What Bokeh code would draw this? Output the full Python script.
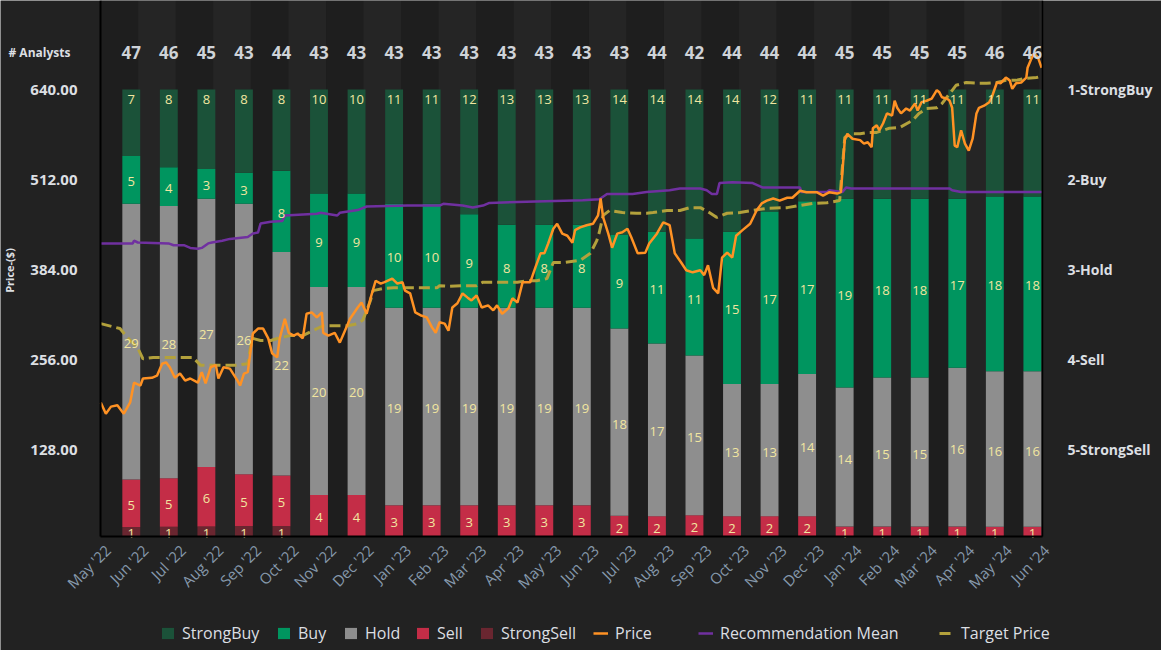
import math
import pandas as pd
from bokeh.plotting import figure
from bokeh.models import Range1d, ColumnDataSource, Legend, LegendItem
from bokeh.core.properties import value
from bokeh.embed import file_html
from bokeh.resources import INLINE

# ---------------- data ----------------
TICK_LABELS = ["May '22", "Jun '22", "Jul '22", "Aug '22", "Sep '22", "Oct '22", "Nov '22",
               "Dec '22", "Jan '23", "Feb '23", "Mar '23", "Apr '23", "May '23", "Jun '23",
               "Jul '23", "Aug '23", "Sep '23", "Oct '23", "Nov '23", "Dec '23", "Jan '24",
               "Feb '24", "Mar '24", "Apr '24", "May '24", "Jun '24"]
BAR_MONTHS = TICK_LABELS[1:]

STRONG_BUY = [7, 8, 8, 8, 8, 10, 10, 11, 11, 12, 13, 13, 13, 14, 14, 14, 14, 12, 11, 11, 11, 11, 11, 11, 11]
BUY = [5, 4, 3, 3, 8, 9, 9, 10, 10, 9, 8, 8, 8, 9, 11, 11, 15, 17, 17, 19, 18, 18, 17, 18, 18]
HOLD = [29, 28, 27, 26, 22, 20, 20, 19, 19, 19, 19, 19, 19, 18, 17, 15, 13, 13, 14, 14, 15, 15, 16, 16, 16]
SELL = [5, 5, 6, 5, 5, 4, 4, 3, 3, 3, 3, 3, 3, 2, 2, 2, 2, 2, 2, 1, 1, 1, 1, 1, 1]
STRONG_SELL = [1, 1, 1, 1, 1, 0, 0, 0, 0, 0, 0, 0, 0, 0, 0, 0, 0, 0, 0, 0, 0, 0, 0, 0, 0]
ANALYSTS = [47, 46, 45, 43, 44, 43, 43, 43, 43, 43, 43, 43, 43, 43, 44, 42, 44, 44, 44, 45, 45, 45, 45, 46, 46]

PRICE_DATES = [
    "2022-06-21", "2022-06-25", "2022-06-29", "2022-07-04", "2022-07-09", "2022-07-14", "2022-07-17",
    "2022-07-22", "2022-07-24", "2022-07-31", "2022-08-04", "2022-08-08", "2022-08-11", "2022-08-14",
    "2022-08-18", "2022-08-22", "2022-08-26", "2022-08-30", "2022-09-05", "2022-09-08", "2022-09-11",
    "2022-09-15", "2022-09-19", "2022-09-21", "2022-09-25", "2022-09-30", "2022-10-06", "2022-10-08",
    "2022-10-11", "2022-10-14", "2022-10-18", "2022-10-22", "2022-10-26", "2022-10-30", "2022-11-02",
    "2022-11-06", "2022-11-08", "2022-11-12", "2022-11-15", "2022-11-19", "2022-11-22", "2022-11-26",
    "2022-11-29", "2022-12-03", "2022-12-07", "2022-12-11", "2022-12-12", "2022-12-16", "2022-12-21",
    "2022-12-25", "2022-12-29",
    "2023-01-02", "2023-01-08", "2023-01-11", "2023-01-15", "2023-01-18", "2023-01-22", "2023-01-26",
    "2023-01-29", "2023-02-04", "2023-02-08", "2023-02-12", "2023-02-14", "2023-02-18", "2023-02-22",
    "2023-02-26", "2023-03-03", "2023-03-07", "2023-03-10", "2023-03-13", "2023-03-17", "2023-03-20",
    "2023-03-23", "2023-03-27", "2023-03-31", "2023-04-04", "2023-04-07", "2023-04-11", "2023-04-15",
    "2023-04-20", "2023-04-24", "2023-04-27", "2023-05-01", "2023-05-06", "2023-05-09", "2023-05-13",
    "2023-05-17", "2023-05-23", "2023-05-27", "2023-05-31", "2023-06-03", "2023-06-06", "2023-06-10",
    "2023-06-13", "2023-06-17", "2023-06-21", "2023-06-25", "2023-06-27", "2023-07-01", "2023-07-06",
    "2023-07-11", "2023-07-15", "2023-07-17", "2023-07-19", "2023-07-23", "2023-07-26", "2023-07-30",
    "2023-08-03", "2023-08-07", "2023-08-10", "2023-08-15", "2023-08-21", "2023-08-24", "2023-08-30",
    "2023-09-04", "2023-09-09", "2023-09-13", "2023-09-18", "2023-09-22", "2023-09-27", "2023-10-03",
    "2023-10-06", "2023-10-09", "2023-10-13", "2023-10-17", "2023-10-20", "2023-10-24", "2023-10-28",
    "2023-10-31", "2023-11-05", "2023-11-11", "2023-11-16", "2023-11-20", "2023-11-24", "2023-11-29",
    "2023-12-04", "2023-12-10", "2023-12-14", "2023-12-20", "2023-12-25",
    "2024-01-02", "2024-01-07", "2024-01-12", "2024-01-18", "2024-01-21", "2024-01-24", "2024-01-26",
    "2024-01-30", "2024-02-05", "2024-02-08", "2024-02-11", "2024-02-14", "2024-02-15", "2024-02-18",
    "2024-02-20", "2024-02-23", "2024-02-26", "2024-03-01", "2024-03-03", "2024-03-05", "2024-03-08",
    "2024-03-12", "2024-03-15", "2024-03-19", "2024-03-21", "2024-03-24", "2024-03-28", "2024-04-01",
    "2024-04-05", "2024-04-07", "2024-04-09", "2024-04-13", "2024-04-15", "2024-04-17", "2024-04-19",
    "2024-04-21", "2024-04-24", "2024-04-27", "2024-04-30", "2024-05-03", "2024-05-06", "2024-05-08",
    "2024-05-12", "2024-05-16", "2024-05-18", "2024-05-22", "2024-05-25", "2024-05-29", "2024-06-01",
    "2024-06-03", "2024-06-06", "2024-06-10", "2024-06-14", "2024-06-15", "2024-06-18", "2024-06-20",
    "2024-06-23", "2024-06-24", "2024-06-26"]
PRICE = [
    195, 179, 189, 191, 179, 195, 223, 219, 229, 230, 233, 250, 252, 245, 230, 236, 226, 229, 223, 238,
    222, 245, 248, 229, 245, 243, 226, 219, 236, 238, 293, 300, 300, 286, 265, 259, 286, 314, 294, 290,
    293, 286, 321, 323, 316, 323, 294, 290, 294, 280, 297,
    314, 330, 337, 321, 343, 368, 364, 366, 371, 364, 366, 354, 350, 323, 319, 316, 302, 294, 309, 307,
    297, 330, 336, 350, 344, 340, 347, 330, 333, 326, 333, 321, 329, 343, 337, 366, 366, 387, 407, 407,
    421, 442, 449, 435, 432, 422, 440, 444, 447, 449, 461, 485, 458, 435, 415, 435, 437, 442, 430, 407,
    408, 421, 435, 451, 447, 407, 394, 383, 380, 383, 376, 390, 358, 350, 401, 408, 401, 432, 440, 449,
    468, 478, 482, 485, 482, 486, 486, 496, 494,
    494, 489, 494, 492, 494, 568, 577, 570, 568, 563, 565, 558, 585, 589, 582, 592, 606, 603, 624, 614,
    606, 613, 610, 620, 610, 622, 624, 627, 639, 636, 629, 627, 624, 614, 560, 558, 582, 563, 553, 570,
    606, 614, 617, 622, 629, 650, 649, 657, 653, 641, 649, 650, 657, 671, 684, 691, 686, 681, 671]

TARGET_DATES = [
    "2022-06-21", "2022-07-06", "2022-07-12", "2022-07-20", "2022-07-24", "2022-08-01", "2022-08-12",
    "2022-08-22", "2022-09-01", "2022-09-07", "2022-09-15", "2022-09-25", "2022-10-06", "2022-10-14",
    "2022-10-16", "2022-10-18", "2022-10-24", "2022-11-01", "2022-11-08", "2022-11-16", "2022-11-26",
    "2022-12-04", "2022-12-12", "2022-12-20", "2022-12-31", "2023-01-08", "2023-01-12", "2023-01-18",
    "2023-01-20", "2023-01-28", "2023-02-05", "2023-02-16", "2023-02-26", "2023-03-11", "2023-03-13",
    "2023-03-21", "2023-03-31", "2023-04-11", "2023-04-16", "2023-04-27", "2023-05-05", "2023-05-13",
    "2023-05-20", "2023-05-28", "2023-06-05", "2023-06-10", "2023-06-18", "2023-07-01", "2023-07-09",
    "2023-07-14", "2023-07-16", "2023-07-19", "2023-07-24", "2023-08-03", "2023-08-14", "2023-08-22",
    "2023-08-27", "2023-09-07", "2023-09-17", "2023-09-25", "2023-10-03", "2023-10-10", "2023-10-16",
    "2023-10-24", "2023-11-03", "2023-11-13", "2023-11-24", "2023-12-10", "2023-12-20", "2023-12-30",
    "2024-01-10", "2024-01-20", "2024-01-24", "2024-01-29", "2024-02-05", "2024-02-12", "2024-02-18",
    "2024-02-28", "2024-03-07", "2024-03-17", "2024-03-22", "2024-03-28", "2024-04-05", "2024-04-09",
    "2024-04-15", "2024-04-20", "2024-04-28", "2024-05-06", "2024-05-14", "2024-05-22", "2024-05-29",
    "2024-06-06", "2024-06-14", "2024-06-22", "2024-06-26"]
TARGET_PRICE = [
    307, 300, 287, 272, 257, 259, 259, 259, 259, 248, 248, 248, 248, 250, 272, 286, 283, 283, 287, 290,
    290, 297, 304, 304, 304, 307, 312, 340, 354, 357, 358, 358, 358, 358, 361, 360, 361, 361, 366, 366,
    366, 366, 368, 368, 371, 394, 394, 397, 407, 425, 437, 461, 468, 465, 464, 464, 465, 468, 468, 472,
    472, 465, 458, 464, 465, 468, 471, 472, 475, 478, 479, 482, 572, 577, 577, 579, 579, 585, 586, 596,
    606, 613, 614, 620, 634, 646, 650, 649, 649, 650, 653, 653, 656, 657, 659]

MEAN_DATES = [
    "2022-06-21", "2022-07-16", "2022-07-17", "2022-07-20", "2022-08-13", "2022-08-17", "2022-08-25",
    "2022-08-30", "2022-09-05", "2022-09-08", "2022-09-13", "2022-09-16", "2022-09-24", "2022-09-30",
    "2022-10-14", "2022-10-18", "2022-10-22", "2022-10-24", "2022-11-01", "2022-11-10", "2022-11-12",
    "2022-12-07", "2022-12-10", "2022-12-23", "2022-12-25", "2023-01-08", "2023-01-15", "2023-02-16",
    "2023-03-13", "2023-03-16", "2023-03-31", "2023-04-08", "2023-04-16", "2023-04-21", "2023-07-03",
    "2023-07-16", "2023-07-22", "2023-08-11", "2023-08-22", "2023-09-09", "2023-09-17", "2023-10-03",
    "2023-10-08", "2023-10-12", "2023-10-16", "2023-10-18", "2023-10-28", "2023-11-13", "2023-11-21",
    "2023-12-20", "2023-12-21", "2024-01-10", "2024-01-12", "2024-01-22", "2024-01-25", "2024-01-29",
    "2024-04-15", "2024-04-17", "2024-04-24", "2024-06-26"]
MEAN_RATING = [
    2.71, 2.71, 2.68, 2.70, 2.71, 2.73, 2.73, 2.76, 2.77, 2.76, 2.71, 2.70, 2.68, 2.66, 2.64, 2.60,
    2.59, 2.49, 2.47, 2.46, 2.40, 2.38, 2.37, 2.40, 2.37, 2.34, 2.30, 2.29, 2.29, 2.27, 2.29, 2.31,
    2.29, 2.26, 2.23, 2.22, 2.16, 2.16, 2.14, 2.12, 2.10, 2.10, 2.12, 2.16, 2.16, 2.04, 2.03, 2.04,
    2.09, 2.09, 2.14, 2.14, 2.12, 2.14, 2.09, 2.10, 2.10, 2.12, 2.14, 2.14]

RATING_TICKS = [1, 2, 3, 4, 5]
RATING_LABELS = ["1-StrongBuy", "2-Buy", "3-Hold", "4-Sell", "5-StrongSell"]
PRICE_TICKS = [128, 256, 384, 512, 640]

# ---------------- style / layout ----------------
FONT = "Open Sans"
BG = "#222222"
BAND_DARK = "#1e1e1e"
BAND_LIGHT = "#252525"
COLORS = {"StrongBuy": "#1b5239", "Buy": "#00955f", "Hold": "#8e8e8e",
          "Sell": "#c42d47", "StrongSell": "#6a2630"}
PRICE_COLOR = "#ff9224"
MEAN_COLOR = "#7030a0"
TARGET_COLOR = "#b3a13c"
VALUE_COLOR = "#f2e6a0"
TEXT_COLOR = "#dcdfe2"
XLABEL_COLOR = "#8699ac"

W, H = 1161, 650                      # canvas
PL, PR, PB = 100, 1042, 536           # plot area left / right / bottom (top = 0)
PRICE_MIN, PRICE_TOP = 4.27, 766.6    # price at plot bottom / top
SHARE_TOP = 536 / 447                 # bar share (0..1) scale: 1 sits at the 640 level
RATING_PX = 90.0                      # pixels per rating step, 1 at y=89
ANALYST_ROW = 1.0828                  # share units
PRICE_LABEL_Y = 382.6                 # price units (centre of the vertical axis title)


def to_ms(dates):
    return [float((pd.Timestamp(d) - pd.Timestamp("1970-01-01")) / pd.Timedelta(milliseconds=1))
            for d in dates]


DAY_MS = 86400000.0
X_START = to_ms(["2022-06-20 19:00"])[0]
X_END = to_ms(["2024-06-26 16:00"])[0]
TICK0 = to_ms(["2022-06-21"])[0]
TICK_STEP = 29.37 * DAY_MS
tick_pos = [TICK0 + i * TICK_STEP for i in range(len(TICK_LABELS))]
BAR_SHIFT = 5.5 * DAY_MS
BAR_W = 14 * DAY_MS
bar_x = [tick_pos[i + 1] - BAR_SHIFT for i in range(len(BAR_MONTHS))]

mpp = (X_END - X_START) / (PR - PL)
ppp = (PRICE_TOP - PRICE_MIN) / PB
spp = SHARE_TOP / PB
p = figure(width=W, height=H,
           x_range=Range1d(X_START - PL * mpp, X_END + (W - PR) * mpp),
           y_range=Range1d(PRICE_MIN - (H - PB) * ppp, PRICE_TOP),
           output_backend="svg", toolbar_location=None,
           x_axis_location=None, y_axis_location=None,
           min_border_left=0, min_border_right=0, min_border_top=0, min_border_bottom=0,
           background_fill_color=BG, border_fill_color=BG, outline_line_color=None)
p.extra_y_ranges = {"share": Range1d(-(H - PB) * spp, SHARE_TOP),
                    "rating": Range1d(1 + (H - 89) / RATING_PX, 1 - 89 / RATING_PX)}
p.grid.visible = False

# alternating month bands inside the plot area
edges = [X_START] + tick_pos[:] + [X_END]
band_l, band_r, band_c = [], [], []
for i in range(len(edges) - 1):
    band_l.append(edges[i])
    band_r.append(edges[i + 1])
    band_c.append(BAND_DARK if i % 2 == 1 else BAND_LIGHT)
p.quad(left=band_l, right=band_r, bottom=PRICE_MIN, top=PRICE_TOP, fill_color=band_c, line_color=None)

# stacked, normalised bars
stack = [("StrongSell", STRONG_SELL), ("Sell", SELL), ("Hold", HOLD), ("Buy", BUY), ("StrongBuy", STRONG_BUY)]
totals = [sum(v) for v in zip(STRONG_SELL, SELL, HOLD, BUY, STRONG_BUY)]
cum = [0.0] * len(bar_x)
rends = {}
lx, ly, lt, lo = [], [], [], []
for name, counts in stack:
    bottoms = cum[:]
    tops = [b + c / t for b, c, t in zip(bottoms, counts, totals)]
    src = ColumnDataSource(dict(x=bar_x, bottom=bottoms, top=tops))
    rends[name] = p.vbar(x="x", bottom="bottom", top="top", width=BAR_W, source=src,
                         fill_color=COLORS[name], line_color=None, y_range_name="share")
    for i, c in enumerate(counts):
        if c > 0:
            lx.append(bar_x[i])
            lt.append(str(c))
            if name == "StrongBuy":
                ly.append(tops[i]); lo.append(10)
            else:
                ly.append((bottoms[i] + tops[i]) / 2); lo.append(2)
    cum = tops

# lines
rends["Target Price"] = p.line(to_ms(TARGET_DATES), TARGET_PRICE, line_color=TARGET_COLOR,
                               line_width=3, line_dash="11 5")
rends["Recommendation Mean"] = p.line(to_ms(MEAN_DATES), MEAN_RATING, line_color=MEAN_COLOR,
                                      line_width=2.5, y_range_name="rating")
rends["Price"] = p.line(to_ms(PRICE_DATES), PRICE, line_color=PRICE_COLOR, line_width=2.5)

# value labels
lsrc = ColumnDataSource(dict(x=lx, y=ly, t=lt, o=lo))
p.text(x="x", y="y", text="t", y_offset="o", source=lsrc, y_range_name="share",
       text_font=value(FONT), text_font_size="13px", text_color=VALUE_COLOR,
       text_align="center", text_baseline="middle")

# analysts row
p.text(x=bar_x, y=[ANALYST_ROW] * len(bar_x), text=[str(a) for a in ANALYSTS], y_range_name="share",
       text_font=value(FONT), text_font_size="17px", text_font_style="bold", text_color="#cfd3d8",
       text_align="center", text_baseline="middle")
p.text(x=[X_START], y=[ANALYST_ROW], text=["# Analysts"], y_range_name="share", x_offset=-92,
       text_font=value(FONT), text_font_size="12px", text_font_style="bold", text_color=TEXT_COLOR,
       text_align="left", text_baseline="middle")

# axis lines
p.segment(x0=[X_START, X_START, X_END], y0=[PRICE_MIN, PRICE_MIN, PRICE_MIN],
          x1=[X_START, X_END, X_END], y1=[PRICE_TOP, PRICE_MIN, PRICE_TOP],
          line_color="#000000", line_width=[2, 2, 1.5])

# left (price) axis
p.text(x=[X_START] * len(PRICE_TICKS), y=PRICE_TICKS, text=[f"{v:.2f}" for v in PRICE_TICKS],
       x_offset=-23, text_font=value(FONT), text_font_size="15px", text_font_style="bold",
       text_color=TEXT_COLOR, text_align="right", text_baseline="middle")
p.text(x=[X_START], y=[PRICE_LABEL_Y], text=["Price-($)"], x_offset=-91, angle=math.pi / 2,
       text_font=value(FONT), text_font_size="11px", text_font_style="bold", text_color=TEXT_COLOR,
       text_align="center", text_baseline="middle")

# right (recommendation) axis
p.text(x=[X_END] * len(RATING_TICKS), y=RATING_TICKS, text=RATING_LABELS, y_range_name="rating",
       x_offset=25, text_font=value(FONT), text_font_size="14px", text_font_style="bold",
       text_color=TEXT_COLOR, text_align="left", text_baseline="middle")

# bottom (date) axis
p.text(x=tick_pos, y=[PRICE_MIN] * len(tick_pos), text=TICK_LABELS, angle=math.pi / 4,
       x_offset=7, y_offset=11, text_font=value(FONT), text_font_size="15px",
       text_color=XLABEL_COLOR, text_align="right", text_baseline="middle")

# legend (one per entry so that each sits where the reference puts it)
legend_x = {"StrongBuy": 160, "Buy": 276, "Hold": 343, "Sell": 415, "StrongSell": 479,
            "Price": 593, "Recommendation Mean": 698, "Target Price": 939}
for lab, x0 in legend_x.items():
    lg = Legend(items=[LegendItem(label=lab, renderers=[rends[lab]])], location=(x0, 6),
                orientation="horizontal", padding=0, margin=0, spacing=0,
                glyph_width=15, glyph_height=14, label_standoff=7, label_height=16,
                label_text_font=FONT, label_text_font_size="16px", label_text_color=TEXT_COLOR,
                border_line_color=None, background_fill_alpha=0)
    p.add_layout(lg)

html = file_html(p, INLINE)
html = html.replace("<body>", '<body style="background:#222222">', 1)
open("out.html", "w").write(html)
